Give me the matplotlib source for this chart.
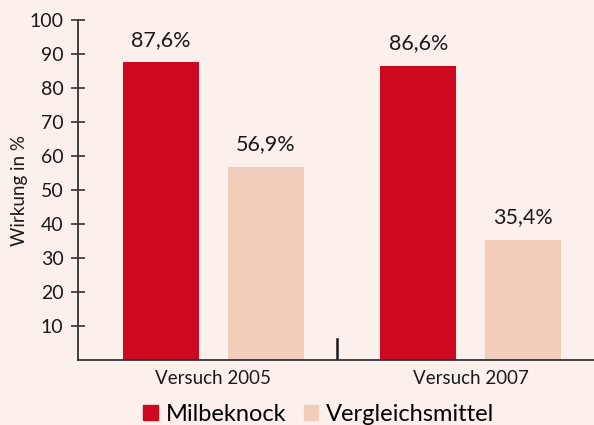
import numpy as np
import matplotlib
matplotlib.use("Agg")
import matplotlib.pyplot as plt
from matplotlib.patches import Patch

plt.rcParams['font.family'] = ['Lato', 'DejaVu Sans']

# data
groups = ['Versuch 2005', 'Versuch 2007']
series = ['Milbeknock', 'Vergleichsmittel']
milbeknock = [87.6, 86.6]
vergleich = [56.9, 35.4]
y_ticks = [10, 20, 30, 40, 50, 60, 70, 80, 90, 100]

bg = '#fbf0ec'
red = '#cd0920'
peach = '#f2cdbb'

W, H = 594, 425
fig = plt.figure(figsize=(W / 100, H / 100), dpi=100, facecolor=bg)
ax = fig.add_axes([78 / W, 65 / H, (W - 78) / W, 340 / H], facecolor=bg)

x = np.arange(len(groups))
off = 0.204
bw = 0.295
b1 = ax.bar(x - off, milbeknock, bw, color=red)
b2 = ax.bar(x + off, vergleich, bw, color=peach)

def fmt(v):
    return f'{v:.1f}'.replace('.', ',') + '%'

for bars, vals in ((b1, milbeknock), (b2, vergleich)):
    for b, v in zip(bars, vals):
        ax.text(b.get_x() + b.get_width() / 2, v + 3.6, fmt(v),
                ha='center', va='bottom', fontsize=15.5, color='#1a1a1a')

ax.set_xlim(-0.526, 1.478)
ax.set_ylim(0, 100)
ax.set_yticks(y_ticks)
ax.tick_params(axis='y', direction='inout', length=10, width=1.2,
               color='#333333', labelsize=14, labelcolor='#1a1a1a', pad=5.5)
ax.set_xticks(x)
ax.set_xticklabels(groups, fontsize=13.5, color='#1a1a1a')
ax.tick_params(axis='x', length=0, pad=7)

# separator tick between the two groups
ax.plot([0.48, 0.48], [0, 6.3], color='#1a1a1a', lw=1.8)

for s in ('top', 'right'):
    ax.spines[s].set_visible(False)
for s in ('left', 'bottom'):
    ax.spines[s].set_color('#333333')
    ax.spines[s].set_linewidth(1.3)

ax.set_ylabel('Wirkung in %', fontsize=13.5, color='#1a1a1a', labelpad=1)

handles = [Patch(color=red), Patch(color=peach)]
fig.legend(handles, series, loc='center', bbox_to_anchor=(319 / W, 1 - 414.5 / H),
           ncol=2, frameon=False, fontsize=17, handlelength=0.6,
           handleheight=0.6, handletextpad=0.34, columnspacing=0.76,
           borderpad=0)

fig.savefig('out.png', dpi=100, facecolor=bg)
